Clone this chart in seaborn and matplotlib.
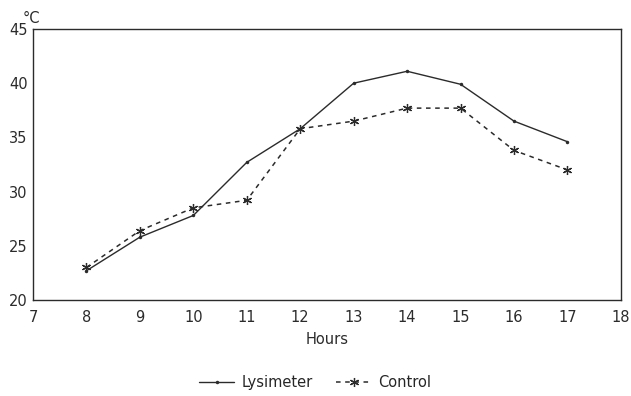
import matplotlib
matplotlib.use("Agg")
import matplotlib.pyplot as plt
import seaborn as sns
import pandas as pd

hours = [8, 9, 10, 11, 12, 13, 14, 15, 16, 17]
lysimeter = [22.7, 25.8, 27.8, 32.7, 35.8, 40.0, 41.1, 39.9, 36.5, 34.6]
control = [23.0, 26.4, 28.5, 29.2, 35.8, 36.5, 37.7, 37.7, 33.8, 32.0]
x_ticks = [7, 8, 9, 10, 11, 12, 13, 14, 15, 16, 17, 18]
y_ticks = [20, 25, 30, 35, 40, 45]

sns.set_theme(style="white")
plt.rcParams['font.family'] = ['DejaVu Sans']

df = pd.DataFrame({"Hours": hours, "Lysimeter": lysimeter, "Control": control})

fig = plt.figure(figsize=(6.31, 3.96), dpi=100)
ax = fig.add_axes([0.0523, 0.2424, 0.9317, 0.6844])

ink = "#2b2b2b"
sns.lineplot(data=df, x="Hours", y="Lysimeter", ax=ax, color=ink, lw=1.0,
             marker="o", markersize=2.5, markeredgewidth=0, label="Lysimeter")
sns.lineplot(data=df, x="Hours", y="Control", ax=ax, color=ink, lw=1.1,
             linestyle=(0, (3, 3)), marker=(6, 2, 0), markersize=6.5,
             markeredgewidth=0.9, markeredgecolor=ink, label="Control")

ax.set_xlim(7, 18)
ax.set_ylim(20, 45)
ax.set_xticks(x_ticks)
ax.set_yticks(y_ticks)
ax.set_xlabel("Hours", fontsize=10.5, color=ink, labelpad=5)
ax.set_ylabel("")
ax.text(0.012, 1.012, "\u00b0C", transform=ax.transAxes, fontsize=10.5,
        color=ink, ha="right", va="bottom")
ax.tick_params(axis="both", direction="in", length=3, width=0.8,
               colors=ink, labelsize=10.5, pad=4)
ax.tick_params(axis="x", pad=7)
for s in ax.spines.values():
    s.set_visible(True)
    s.set_color(ink)
    s.set_linewidth(1.0)

ax.legend(loc="center", bbox_to_anchor=(0.5, 0.033), bbox_transform=fig.transFigure,
          ncol=2, frameon=False, fontsize=10.5, handlelength=2.4, columnspacing=1.6,
          handletextpad=0.5)

fig.savefig("out.png", dpi=100)
